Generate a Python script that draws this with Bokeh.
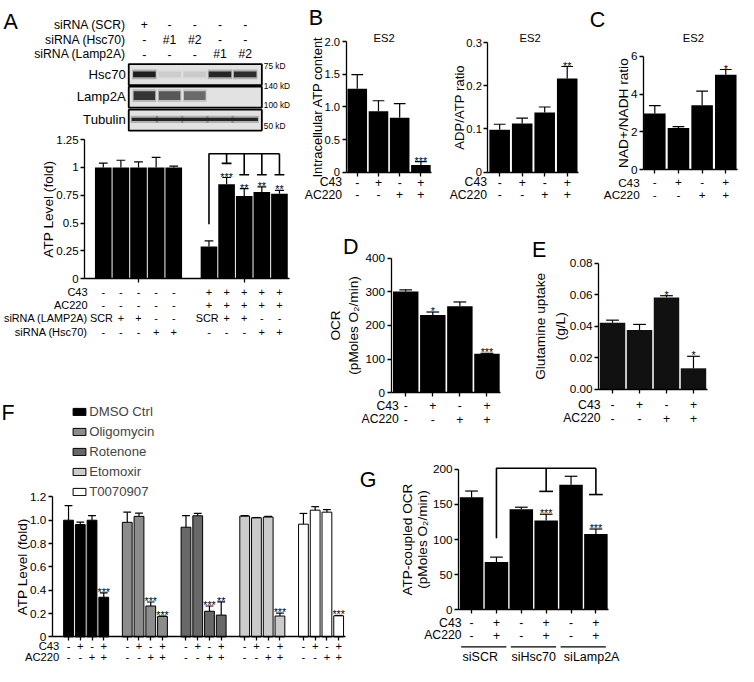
import math
from bokeh.plotting import figure
from bokeh.models import Range1d, LinearAxis, FixedTicker, Legend, LegendItem, NumeralTickFormatter
from bokeh.core.properties import value
from bokeh.embed import file_html
from bokeh.resources import INLINE

# ======================= DATA =======================
# --- Panel A: western blot ---
BLOT_ROW_NAMES = ["siRNA (SCR)", "siRNA (Hsc70)", "siRNA (Lamp2A)"]
BLOT_SCR = ["+", "-", "-", "-", "-"]
BLOT_HSC70 = ["-", "#1", "#2", "-", "-"]
BLOT_LAMP2A = ["-", "-", "-", "#1", "#2"]
BLOT_PROTEINS = ["Hsc70", "Lamp2A", "Tubulin"]
BAND_HSC70 = [1.0, 0.08, 0.10, 0.95, 0.90]
BAND_LAMP2A = [0.85, 0.65, 0.55, 0.0, 0.0]
BAND_TUBULIN = [0.95, 0.95, 0.95, 0.95, 0.95]
BLOT_MARKERS = ["75 kD", "140 kD", "100 kD", "50 kD"]

# --- Panel A: ATP level ---
A_X = [0, 1, 2, 3, 4, 6, 7, 8, 9, 10]
A_MEAN = [1.0, 1.0, 1.0, 1.0, 1.0, 0.29, 0.85, 0.745, 0.78, 0.765]
A_ERR = [0.04, 0.065, 0.05, 0.09, 0.012, 0.05, 0.06, 0.065, 0.045, 0.03]
A_C43 = ["-", "-", "-", "-", "-", "+", "+", "+", "+", "+"]
A_AC220 = ["-", "-", "-", "-", "-", "+", "+", "+", "+", "+"]
A_LAMP2A = ["SCR", "+", "+", "-", "-", "SCR", "+", "+", "-", "-"]
A_HSC70 = ["-", "-", "-", "+", "+", "-", "-", "-", "+", "+"]
A_STARS = ["", "", "", "", "", "", "***", "**", "**", "**"]
A_ROW_LABELS = ["C43", "AC220", "siRNA (LAMP2A)", "siRNA (Hsc70)"]
A_TICKS = [0, 0.25, 0.5, 0.75, 1, 1.25]
A_TICK_LABELS = ["0", "0.25", "0.5", "0.75", "1", "1.25"]
A_GROUP_TICKS = [2, 8]
A_BRACKET_REF = 6
A_BRACKET_TO = [7, 8, 9, 10]

# --- Panels B-E (ES2) ---
ES2_X = [0, 1, 2, 3]
C43_4 = ["-", "+", "-", "+"]
AC220_4 = ["-", "-", "+", "+"]
B_ATP_MEAN = [1.28, 0.935, 0.835, 0.11]
B_ATP_ERR = [0.215, 0.16, 0.215, 0.05]
B_ATP_STARS = ["", "", "", "***"]
B_ATP_TICKS = [0, 0.5, 1, 1.5, 2]
B_ATP_TICK_LABELS = ["0", "0.5", "1.0", "1.5", "2.0"]
B_ADP_MEAN = [0.098, 0.113, 0.138, 0.217]
B_ADP_ERR = [0.013, 0.012, 0.013, 0.028]
B_ADP_STARS = ["", "", "", "**"]
B_ADP_TICKS = [0, 0.1, 0.2, 0.3]
B_ADP_TICK_LABELS = ["0", "0.1", "0.2", "0.3"]
C_NAD_MEAN = [2.98, 2.21, 3.41, 5.03]
C_NAD_ERR = [0.42, 0.07, 0.75, 0.28]
C_NAD_STARS = ["", "", "", "*"]
C_NAD_TICKS = [0, 2, 4, 6]
C_NAD_TICK_LABELS = ["0", "2", "4", "6"]
D_OCR_MEAN = [301, 231, 257, 116]
D_OCR_ERR = [5, 9, 13, 1]
D_OCR_STARS = ["", "*", "", "***"]
D_OCR_TICKS = [0, 100, 200, 300, 400]
D_OCR_TICK_LABELS = ["0", "100", "200", "300", "400"]
E_GLN_MEAN = [0.0423, 0.0377, 0.0583, 0.0134]
E_GLN_ERR = [0.0016, 0.0035, 0.0011, 0.0076]
E_GLN_STARS = ["", "", "*", "*"]
E_GLN_TICKS = [0, 0.02, 0.04, 0.06, 0.08]
E_GLN_TICK_LABELS = ["0.00", "0.02", "0.04", "0.06", "0.08"]

# --- Panel F ---
F_TREATMENTS = ["DMSO Ctrl", "Oligomycin", "Rotenone", "Etomoxir", "T0070907"]
F_DMSO = [1.0, 0.963, 1.0, 0.34]
F_DMSO_ERR = [0.125, 0.02, 0.04, 0.037]
F_OLIGO = [0.982, 1.033, 0.265, 0.176]
F_OLIGO_ERR = [0.087, 0.027, 0.034, 0.003]
F_ROT = [0.94, 1.038, 0.22, 0.187]
F_ROT_ERR = [0.10, 0.02, 0.045, 0.113]
F_ETO = [1.035, 1.021, 1.027, 0.179]
F_ETO_ERR = [0.005, 0.002, 0.006, 0.025]
F_T007 = [0.966, 1.086, 1.069, 0.181]
F_T007_ERR = [0.092, 0.03, 0.022, 0.003]
F_DMSO_STARS = ["", "", "", "***"]
F_OLIGO_STARS = ["", "", "***", "***"]
F_ROT_STARS = ["", "", "***", "**"]
F_ETO_STARS = ["", "", "", "***"]
F_T007_STARS = ["", "", "", "***"]
F_TICKS = [0, 0.2, 0.4, 0.6, 0.8, 1.0, 1.2]
F_TICK_LABELS = ["0", "0.2", "0.4", "0.6", "0.8", "1.0", "1.2"]

# --- Panel G ---
G_X = [0, 1, 2, 3, 4, 5]
G_MEAN = [160, 68, 143, 127, 178, 108]
G_ERR = [9, 7, 3, 9, 12, 7]
G_C43 = ["-", "+", "-", "+", "-", "+"]
G_AC220 = ["-", "+", "-", "+", "-", "+"]
G_STARS = ["", "", "", "***", "", "***"]
G_GROUPS = ["siSCR", "siHsc70", "siLamp2A"]
G_TICKS = [0, 50, 100, 150, 200]
G_TICK_LABELS = ["0", "50", "100", "150", "200"]
G_BRACKET_REF = 1
G_BRACKET_TO = [3, 5]

# ======================= STYLE / LAYOUT =======================
REF_W, REF_H = 754, 682
W, H = 738, 666
SX, SY = W / REF_W, H / REF_H
FONT = "Liberation Sans"
F_COLORS = ["#000000", "#8c8c8c", "#686868", "#cbcbcb", "#ffffff"]
G_GROUP_SHIFT = [-0.15, 0.0, 0.33]
STAR_SIZE = 11


def fs(px):
    return f"{px * SY:.2f}px"


p = figure(width=W, height=H, x_range=Range1d(0, REF_W), y_range=Range1d(REF_H, 0),
           x_axis_type=None, y_axis_type=None, toolbar_location=None,
           output_backend="svg", min_border=0, outline_line_color=None,
           background_fill_color="white", border_fill_color="white")


class Panel:
    def __init__(self, name, xa, pxa, xb, pxb, ya, pya, yb, pyb):
        self.xn, self.yn = name + "_x", name + "_y"
        self.xa, self.pxa, self.kx = xa, pxa, (xb - xa) / (pxb - pxa)
        self.ya, self.pya, self.ky = ya, pya, (yb - ya) / (pyb - pya)
        p.extra_x_ranges[self.xn] = Range1d(self.X(0), self.X(REF_W))
        p.extra_y_ranges[self.yn] = Range1d(self.Y(REF_H), self.Y(0))

    def X(self, px):
        return self.xa + (px - self.pxa) * self.kx

    def Y(self, py):
        return self.ya + (py - self.pya) * self.ky

    def dx(self, px):
        return abs(px * self.kx)

    def dy(self, px):
        return abs(px * self.ky)

    @property
    def kw(self):
        return dict(x_range_name=self.xn, y_range_name=self.yn)


def text(xs, ys, texts, size, pn=None, align="center", baseline="middle", angle=0.0, color="black"):
    rows = [(x, y, t) for x, y, t in zip(xs, ys, texts) if t != ""]
    if not rows:
        return
    kw = pn.kw if pn else {}
    p.text(x=[r[0] for r in rows], y=[r[1] for r in rows], text=[r[2] for r in rows],
           angle=angle, text_font=value(FONT), text_font_size=value(fs(size)),
           text_align=align, text_baseline=baseline, text_color=color, **kw)


def yaxis(pn, x_px, top, ticks, labels, size=12):
    ax = LinearAxis(x_range_name=pn.xn, y_range_name=pn.yn,
                    fixed_location=pn.X(x_px), bounds=(0, top),
                    ticker=FixedTicker(ticks=ticks, minor_ticks=[]),
                    formatter=NumeralTickFormatter(format="0.[00]"),
                    major_label_overrides={t: l for t, l in zip(ticks, labels)},
                    axis_line_width=1.3, axis_line_color="black",
                    major_tick_line_width=1.3, major_tick_line_color="black",
                    major_tick_in=0, major_tick_out=4, minor_tick_line_color=None,
                    major_label_standoff=2, major_label_text_font=FONT,
                    major_label_text_font_size=fs(size), major_label_text_color="black")
    p.add_layout(ax, "left")


def xaxis(pn, x0_px, x1_px, ticks):
    ax = LinearAxis(x_range_name=pn.xn, y_range_name=pn.yn,
                    fixed_location=0, bounds=(pn.X(x0_px), pn.X(x1_px)),
                    ticker=FixedTicker(ticks=ticks, minor_ticks=[]),
                    major_label_overrides={t: "" for t in ticks},
                    axis_line_width=1.3, axis_line_color="black",
                    major_tick_line_width=1.3, major_tick_line_color="black",
                    major_tick_in=0, major_tick_out=4, minor_tick_line_color=None,
                    major_label_text_alpha=0)
    p.add_layout(ax, "below")


def bars(pn, xs, tops, width_px, fill="black", line=None):
    return p.vbar(x=xs, top=tops, bottom=0, width=pn.dx(width_px), fill_color=fill,
                  line_color=line, line_width=1, **pn.kw)


def errbars(pn, xs, tops, errs, cap_px, lw=1.2):
    y1 = [t + e for t, e in zip(tops, errs)]
    p.segment(x0=xs, y0=tops, x1=xs, y1=y1, line_color="black", line_width=lw, **pn.kw)
    c = pn.dx(cap_px) / 2
    p.segment(x0=[x - c for x in xs], y0=y1, x1=[x + c for x in xs], y1=y1,
              line_color="black", line_width=lw, **pn.kw)


def stars(pn, xs, tops, errs, marks, size=STAR_SIZE, gap_px=1.0):
    ys = [t + e + pn.dy(gap_px) for t, e in zip(tops, errs)]
    text(xs, ys, marks, size, pn, baseline="alphabetic")


def row(pn, xs, signs, row_py, label, right_px, size):
    y = pn.Y(row_py)
    text([pn.X(right_px)], [y], [label], size, pn, align="right")
    text(xs, [y] * len(xs), signs, size, pn)


def bracket(pn, x_ref, x_to, base, top, ends, cap_px, lw=1.6):
    p.multi_line(xs=[[x_ref, x_ref, x_to[-1]]], ys=[[base, top, top]],
                 line_color="black", line_width=lw, **pn.kw)
    p.segment(x0=x_to, y0=[top] * len(x_to), x1=x_to, y1=ends,
              line_color="black", line_width=lw, **pn.kw)
    c = pn.dx(cap_px) / 2
    p.segment(x0=[x - c for x in x_to], y0=ends, x1=[x + c for x in x_to], y1=ends,
              line_color="black", line_width=lw, **pn.kw)


HALF_PI = math.pi / 2

# ----------------------- panel letters -----------------------
text([3, 315, 602, 350, 543, 1, 367], [22, 18, 20, 252, 255, 422, 491],
     ["A", "B", "C", "D", "E", "F", "G"], 22, align="left", baseline="alphabetic")

# ----------------------- Panel A: blot -----------------------
PBL = Panel("blot", 0, 147, 4, 250, 0, 76, 2, 122.5)
lanes = [0, 1, 2, 3, 4]
p.rect(x=[2.02] * 3, y=[PBL.Y(76), PBL.Y(99), PBL.Y(122.5)], width=PBL.dx(136),
       height=PBL.dy(21.5), fill_color="#e2e2e2", line_color="black", line_width=1.8, **PBL.kw)
for intens, band_py, band_h, band_w in [(BAND_HSC70, 75.7, 6, 23), (BAND_LAMP2A, 97.5, 9, 22),
                                         (BAND_TUBULIN, 121.7, 3.5, 26)]:
    yb = PBL.Y(band_py)
    p.rect(x=lanes, y=[yb] * 5, width=PBL.dx(band_w + 2), height=PBL.dy(band_h + 4),
           fill_color="#333333", fill_alpha=[0.3 * v for v in intens], line_color=None, **PBL.kw)
    p.rect(x=lanes, y=[yb] * 5, width=PBL.dx(band_w), height=PBL.dy(band_h),
           fill_color="#111111", fill_alpha=[0.92 * v for v in intens], line_color=None, **PBL.kw)
text([PBL.X(128)] * 3, [PBL.Y(76), PBL.Y(98.5), PBL.Y(121.5)], BLOT_PROTEINS, 13.5, PBL, align="right")
for signs, name, py in [(BLOT_SCR, BLOT_ROW_NAMES[0], 25), (BLOT_HSC70, BLOT_ROW_NAMES[1], 40),
                        (BLOT_LAMP2A, BLOT_ROW_NAMES[2], 55)]:
    row(PBL, lanes, signs, py, name, 128, 12.5)
text([269] * 4, [67, 88, 107, 129], BLOT_MARKERS, 8.5, align="left")

# ----------------------- Panel A: bars -----------------------
PA = Panel("A", 0, 105, 10, 285, 0, 285, 1.25, 142.5)
bars(PA, A_X, A_MEAN, 17)
errbars(PA, A_X, A_MEAN, A_ERR, 9)
yaxis(PA, 86, 1.25, A_TICKS, A_TICK_LABELS, 11.8)
xaxis(PA, 86, 295, A_GROUP_TICKS)
text([PA.X(49)], [1.25 / 2], ["ATP Level (fold)"], 14, PA, angle=HALF_PI)
row(PA, A_X, A_C43, 299, A_ROW_LABELS[0], 89, 11.3)
row(PA, A_X, A_AC220, 312, A_ROW_LABELS[1], 89, 11.3)
row(PA, [x - 0.1 if s == "SCR" else x for x, s in zip(A_X, A_LAMP2A)], A_LAMP2A, 325,
    A_ROW_LABELS[2], 89, 11.1)
row(PA, A_X, A_HSC70, 339, A_ROW_LABELS[3], 89, 11.3)
bracket(PA, A_BRACKET_REF, A_BRACKET_TO, 0.49, 1.124, [1.037, 0.935, 0.935, 0.935], 10)
stars(PA, A_X, A_MEAN, A_ERR, A_STARS)

# ----------------------- Panel B1 -----------------------
PB1 = Panel("B1", 0, 364.5, 3, 429.5, 0, 175.7, 2, 42.3)
bars(PB1, ES2_X, B_ATP_MEAN, 20)
errbars(PB1, ES2_X, B_ATP_MEAN, B_ATP_ERR, 12)
yaxis(PB1, 353, 2, B_ATP_TICKS, B_ATP_TICK_LABELS, 11.5)
xaxis(PB1, 353, 440, ES2_X)
stars(PB1, ES2_X, B_ATP_MEAN, B_ATP_ERR, B_ATP_STARS)
text([PB1.X(392)], [PB1.Y(38)], ["ES2"], 11.5, PB1)
text([PB1.X(324)], [1.0], ["Intracellular ATP content"], 13.3, PB1, angle=HALF_PI)
row(PB1, ES2_X, C43_4, 186, "C43", 349, 12.5)
row(PB1, ES2_X, AC220_4, 199, "AC220", 349, 12.5)

# ----------------------- Panel B2 -----------------------
PB2 = Panel("B2", 0, 510, 3, 579, 0, 175.7, 0.3, 43.3)
bars(PB2, ES2_X, B_ADP_MEAN, 21)
errbars(PB2, ES2_X, B_ADP_MEAN, B_ADP_ERR, 12)
yaxis(PB2, 498, 0.3, B_ADP_TICKS, B_ADP_TICK_LABELS, 11.5)
xaxis(PB2, 498, 591, ES2_X)
stars(PB2, ES2_X, B_ADP_MEAN, B_ADP_ERR, B_ADP_STARS)
text([PB2.X(541)], [PB2.Y(38)], ["ES2"], 11.5, PB2)
text([PB2.X(469)], [0.15], ["ADP/ATP ratio"], 13.5, PB2, angle=HALF_PI)
row(PB2, ES2_X, C43_4, 186, "C43", 497, 12.5)
row(PB2, ES2_X, AC220_4, 199, "AC220", 497, 12.5)

# ----------------------- Panel C -----------------------
PC = Panel("C", 0, 668.5, 3, 741, 0, 173.3, 6, 57.3)
bars(PC, ES2_X, C_NAD_MEAN, 22)
errbars(PC, ES2_X, C_NAD_MEAN, C_NAD_ERR, 12)
yaxis(PC, 657, 6, C_NAD_TICKS, C_NAD_TICK_LABELS, 12)
xaxis(PC, 657, 753, ES2_X)
stars(PC, ES2_X, C_NAD_MEAN, C_NAD_ERR, C_NAD_STARS)
text([PC.X(708)], [PC.Y(38)], ["ES2"], 11.5, PC)
text([PC.X(637)], [3.0], ["NAD+/NADH ratio"], 14, PC, angle=HALF_PI)
row(PC, ES2_X, C43_4, 186, "C43", 653, 12)
row(PC, ES2_X, AC220_4, 199, "AC220", 653, 12)

# ----------------------- Panel D -----------------------
PD = Panel("D", 0, 414, 3, 497, 0, 401.5, 400, 264)
bars(PD, ES2_X, D_OCR_MEAN, 26)
errbars(PD, ES2_X, D_OCR_MEAN, D_OCR_ERR, 13)
yaxis(PD, 399, 400, D_OCR_TICKS, D_OCR_TICK_LABELS, 12)
xaxis(PD, 399, 511, ES2_X)
stars(PD, ES2_X, D_OCR_MEAN, D_OCR_ERR, D_OCR_STARS)
text([PD.X(342), PD.X(361)], [200, 200], ["OCR", "(pMoles O\u2082/min)"], 14, PD, angle=HALF_PI)
row(PD, ES2_X, C43_4, 415, "C43", 407, 12.5)
row(PD, ES2_X, AC220_4, 429, "AC220", 407, 12.5)

# ----------------------- Panel E -----------------------
PE = Panel("E", 0, 625.3, 3, 708, 0, 398.3, 0.08, 269)
bars(PE, ES2_X, E_GLN_MEAN, 26, fill="#111111")
errbars(PE, ES2_X, E_GLN_MEAN, E_GLN_ERR, 13)
yaxis(PE, 611, 0.08, E_GLN_TICKS, E_GLN_TICK_LABELS, 12)
xaxis(PE, 611, 722, ES2_X)
stars(PE, ES2_X, E_GLN_MEAN, E_GLN_ERR, E_GLN_STARS)
text([PE.X(552), PE.X(572)], [0.04, 0.04], ["Glutamine uptake", "(g/L)"], 14, PE, angle=HALF_PI)
row(PE, ES2_X, C43_4, 414, "C43", 613, 12.5)
row(PE, ES2_X, AC220_4, 428, "AC220", 613, 12.5)

# ----------------------- Panel F -----------------------
PF = Panel("F", 0, 69.5, 23, 345.5, 0, 651.7, 1.2, 508.3)
f_sets = [(F_DMSO, F_DMSO_ERR, F_DMSO_STARS), (F_OLIGO, F_OLIGO_ERR, F_OLIGO_STARS),
          (F_ROT, F_ROT_ERR, F_ROT_STARS), (F_ETO, F_ETO_ERR, F_ETO_STARS),
          (F_T007, F_T007_ERR, F_T007_STARS)]
f_items = []
f_all_x = []
for g, ((mean, err, st), name, col) in enumerate(zip(f_sets, F_TREATMENTS, F_COLORS)):
    xs = [5 * g + b for b in range(4)]
    f_all_x += xs
    r = bars(PF, xs, mean, 10, fill=col, line="black")
    errbars(PF, xs, mean, err, 8)
    stars(PF, xs, mean, err, st)
    f_items.append(LegendItem(label=name, renderers=[r]))
    row(PF, xs, C43_4, 661.5, "C43" if g == 0 else "", 60, 11.5)
    row(PF, xs, AC220_4, 672.5, "AC220" if g == 0 else "", 60, 11.5)
yaxis(PF, 53, 1.2, F_TICKS, F_TICK_LABELS, 12)
xaxis(PF, 53, 352, f_all_x)
text([PF.X(22)], [0.6], ["ATP Level (fold)"], 14, PF, angle=HALF_PI)
leg_h = 5 * 16 + 4 * 4
legend = Legend(items=f_items, location=(72.7 * SX, H - (413 * SY + leg_h)),
                orientation="vertical", glyph_width=16, glyph_height=9, label_height=16,
                spacing=4, padding=0, margin=0, label_standoff=2,
                label_text_font=FONT, label_text_font_size=fs(13.5),
                border_line_color=None, background_fill_alpha=0)
p.add_layout(legend)

# ----------------------- Panel G -----------------------
PG = Panel("G", 0, 481.3, 5, 608.3, 0, 624, 200, 480)
bars(PG, G_X, G_MEAN, 24)
errbars(PG, G_X, G_MEAN, G_ERR, 13)
yaxis(PG, 468, 200, G_TICKS, G_TICK_LABELS, 12)
xaxis(PG, 468, 621, G_X)
stars(PG, G_X, G_MEAN, G_ERR, G_STARS)
bracket(PG, G_BRACKET_REF, G_BRACKET_TO, 102, 201.4, [168.5, 164], 14)
text([PG.X(416), PG.X(431)], [100, 100], ["ATP-coupled OCR", "(pMoles O\u2082/min)"], 14, PG, angle=HALF_PI)
row(PG, G_X, G_C43, 637, "C43", 471, 12.5)
row(PG, G_X, G_AC220, 650, "AC220", 471, 12.5)
gy = PG.Y(662)
p.segment(x0=[2 * g - 0.42 for g in range(3)], y0=[gy] * 3, x1=[2 * g + 1.4 for g in range(3)],
          y1=[gy] * 3, line_color="black", line_width=1.3, **PG.kw)
text([2 * g + 0.5 + s for g, s in zip(range(3), G_GROUP_SHIFT)], [PG.Y(672)] * 3, G_GROUPS, 12.8, PG)

open("out.html", "w").write(file_html(p, INLINE))
